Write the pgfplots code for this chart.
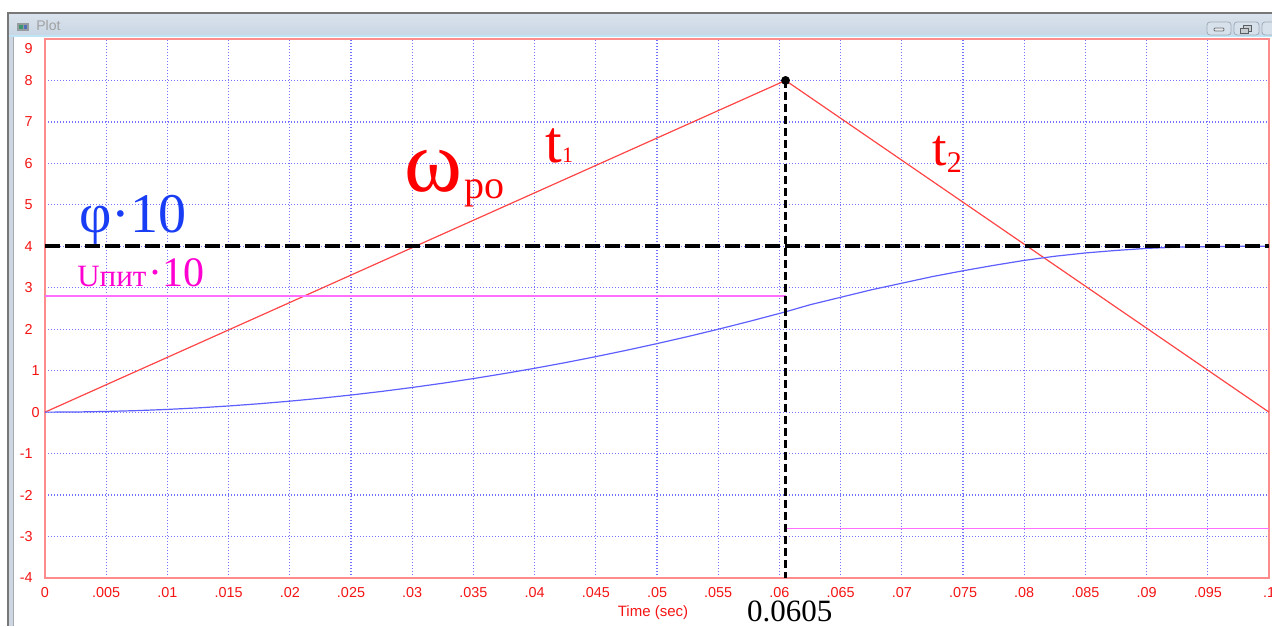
\documentclass[border=0pt]{standalone}
\usepackage{fontspec}
\setmainfont{Liberation Sans}
\newfontfamily\timesfont{Liberation Serif}
\usepackage{pgfplots}
\pgfplotsset{compat=1.18}

\definecolor{gridblue}{RGB}{115,115,255}
\definecolor{framered}{RGB}{255,140,140}
\definecolor{ticklabred}{RGB}{245,20,20}
\definecolor{omegared}{RGB}{255,70,70}
\definecolor{phiblue}{RGB}{95,95,255}
\definecolor{phitext}{RGB}{25,60,245}
\definecolor{upink}{RGB}{255,110,255}
\definecolor{utext}{RGB}{255,0,210}
\definecolor{titletop}{RGB}{218,227,237}
\definecolor{titlebot}{RGB}{200,213,227}

\begin{document}
\begin{tikzpicture}
\path[use as bounding box] (0,0) rectangle (636pt,313pt);

% window frame and title bar, in screen pixels
\begin{scope}[x=0.5pt,y=-0.5pt,shift={(0,313pt)}]
  \fill[white] (0,0) rectangle (1272,626);
  \fill[top color=titletop,bottom color=titlebot] (8,13) rectangle (1272,37);
  \draw[color={rgb,255:red,190;green,228;blue,245},line width=1pt] (9,36.5) -- (1272,36.5);
  \fill[color={rgb,255:red,205;green,214;blue,225}] (8,37) rectangle (13,626);
  \draw[color={rgb,255:red,120;green,120;blue,120},line width=0.8pt] (8,626) -- (8,13) -- (1272,13);
  \draw[color={rgb,255:red,165;green,170;blue,178},line width=0.5pt] (13,37) -- (13,626);
  % window icon
  \fill[color={rgb,255:red,150;green,155;blue,160}] (17,23) rectangle (29,31);
  \fill[color={rgb,255:red,60;green,150;blue,110}] (19,25) rectangle (23,29);
  \fill[color={rgb,255:red,80;green,110;blue,190}] (24,25) rectangle (27,29);
  \node[anchor=base west,inner sep=0pt,text={rgb,255:red,160;green,160;blue,160},font=\fontsize{7}{8}\selectfont] at (36,31) {Plot};
  % caption buttons
  \foreach \a/\b in {1207/1231,1234/1259,1262/1290}{
    \draw[rounded corners=1.5pt,color={rgb,255:red,160;green,172;blue,185},fill={rgb,255:red,215;green,225;blue,235}] (\a,22) rectangle (\b,35);
  }
  \draw[rounded corners=0.5pt,color={rgb,255:red,110;green,115;blue,120},fill={rgb,255:red,230;green,233;blue,236}] (1214,28) rectangle (1224,31);
  \draw[color={rgb,255:red,90;green,95;blue,100},fill={rgb,255:red,200;green,205;blue,210}] (1243,25) rectangle (1251,31);
  \draw[color={rgb,255:red,90;green,95;blue,100},fill={rgb,255:red,200;green,205;blue,210}] (1240,28) rectangle (1248,33);
\end{scope}

\begin{axis}[
  at={(22.5pt,24pt)}, anchor=south west,
  scale only axis, width=612pt, height=269.5pt,
  xmin=0, xmax=0.1, ymin=-4, ymax=9,
  clip=false,
  scaled x ticks=false,
  xtick={0,0.005,0.01,0.015,0.02,0.025,0.03,0.035,0.04,0.045,0.05,0.055,0.06,0.065,0.07,0.075,0.08,0.085,0.09,0.095,0.1},
  xticklabels={0,.005,.01,.015,.02,.025,.03,.035,.04,.045,.05,.055,.06,.065,.07,.075,.08,.085,.09,.095,.1},
  ytick={-4,-3,-2,-1,0,1,2,3,4,5,6,7,8,9},
  yticklabels={-4,-3,-2,-1,0\kern-4pt,1\kern-4pt,2,3,4,5,6,7,8,\raisebox{-4.5pt}[\height][0pt]{9}},
  major tick length=0pt,
  grid=major,
  grid style={color=gridblue,line width=0.6pt,dash pattern=on 0.55pt off 0.95pt},
  axis line style={color=framered,line width=0.9pt},
  tick label style={font=\fontsize{7.2}{8}\selectfont,text=ticklabred},
  xticklabel style={anchor=north,inner sep=0pt,yshift=-4.5pt},
  yticklabel style={anchor=east,inner sep=0pt,xshift=-6pt},
  /pgf/number format/assume math mode=true,
]

% omega of the rotor: acceleration t1, braking t2
\addplot[color=omegared,line width=0.6pt] coordinates {(0,0) (0.0605,8) (0.1,0)};

% supply voltage x10
\addplot[color=upink,line width=0.6pt] coordinates {(0,2.8) (0.0605,2.8)};
\addplot[color=upink,line width=0.6pt] coordinates {(0.0605,-2.8) (0.1,-2.8)};

% angle phi x10
\addplot[color=phiblue,line width=0.6pt] coordinates {
 (0,0) (0.0025,0.004) (0.005,0.017) (0.0075,0.037) (0.01,0.066)
 (0.0125,0.103) (0.015,0.149) (0.0175,0.203) (0.02,0.265) (0.0225,0.335)
 (0.025,0.413) (0.0275,0.500) (0.03,0.595) (0.0325,0.698) (0.035,0.810)
 (0.0375,0.930) (0.04,1.058) (0.0425,1.194) (0.045,1.339) (0.0475,1.492)
 (0.05,1.653) (0.0525,1.822) (0.055,2.000) (0.0575,2.186) (0.0605,2.420)
 (0.0625,2.59) (0.065,2.77) (0.0675,2.95) (0.07,3.11) (0.0725,3.27)
 (0.075,3.41) (0.0775,3.54) (0.08,3.66) (0.0825,3.76) (0.085,3.84)
 (0.0875,3.90) (0.09,3.95) (0.0925,3.98) (0.095,3.99) (0.0975,4.00) (0.1,4.00)};

% target angle and switching instant
\addplot[black,line width=2pt,dash pattern=on 7.5pt off 2.5pt] coordinates {(0,4) (0.1,4)};
\addplot[black,line width=1.5pt,dash pattern=on 4pt off 2pt] coordinates {(0.0605,8) (0.0605,-4)};
\addplot[black,only marks,mark=*,mark size=2pt] coordinates {(0.0605,8)};

% annotations
\node[anchor=base west,inner sep=0pt,text=phitext,font=\timesfont\fontsize{28}{28}\selectfont] at (axis cs:0.00278,4.345) {φ·10};
\node[anchor=base west,inner sep=0pt,text=utext] at (axis cs:0.00261,3.02) {{\timesfont\fontsize{15.5}{16}\selectfont Uпит}{\timesfont\fontsize{21}{21}\selectfont\kern1pt·10}};
\node[anchor=base west,inner sep=0pt,text=red] at (axis cs:0.0293,5.31) {{\timesfont\fontsize{44}{44}\selectfont ω}\kern1.5pt{\timesfont\fontsize{20}{20}\selectfont\raisebox{-3.5pt}{po}}};
\node[anchor=base west,inner sep=0pt,text=red] at (axis cs:0.04085,6.01) {{\timesfont\fontsize{30}{30}\selectfont t}{\timesfont\fontsize{11}{11}\selectfont 1}};
\node[anchor=base west,inner sep=0pt,text=red] at (axis cs:0.07247,5.96) {{\timesfont\fontsize{26}{26}\selectfont t}{\timesfont\fontsize{15}{15}\selectfont\raisebox{-3.5pt}{2}}};
\node[anchor=base,inner sep=0pt,text=ticklabred,font=\fontsize{7.5}{8}\selectfont] at (axis cs:0.04967,-4.92) {Time (sec)};
\node[anchor=base,inner sep=0pt,text=black,font=\timesfont\fontsize{15.5}{15.5}\selectfont] at (axis cs:0.06085,-5.06) {0.0605};
\end{axis}
\end{tikzpicture}
\end{document}
